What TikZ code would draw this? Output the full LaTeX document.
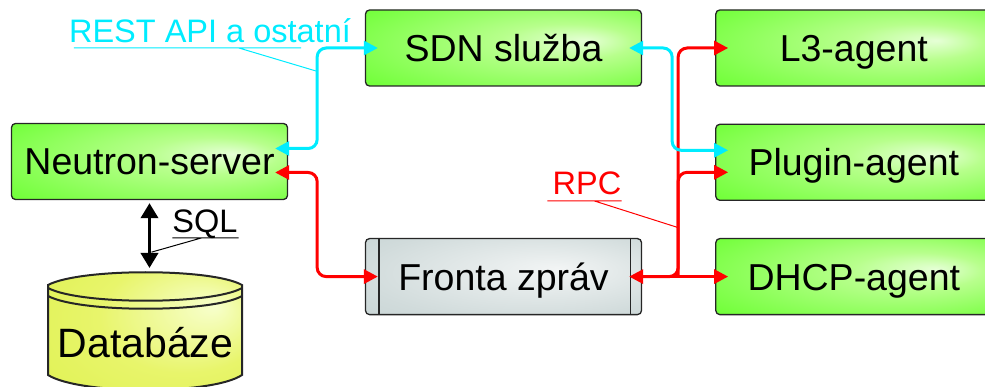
\documentclass[tikz,border=0pt]{standalone}
\usepackage{fontspec}
\setmainfont{Liberation Sans}
\usetikzlibrary{positioning,calc,arrows.meta}
\definecolor{apicyan}{RGB}{0,236,255}
\definecolor{rpcred}{RGB}{255,0,0}
\pgfdeclareradialshading{boxglow}{\pgfpoint{15bp}{5bp}}{rgb(0bp)=(0.90,1,0.84);rgb(12bp)=(0.72,1,0.55);rgb(38bp)=(0.44,1,0.22);rgb(50bp)=(0.38,1,0.18)}
\pgfdeclareradialshading{queueglow}{\pgfpoint{10bp}{5bp}}{rgb(0bp)=(0.95,0.96,0.96);rgb(30bp)=(0.82,0.86,0.86);rgb(50bp)=(0.75,0.81,0.81)}
\pgfdeclareradialshading{dbglow}{\pgfpoint{18bp}{10bp}}{rgb(0bp)=(0.97,1,0.80);rgb(22bp)=(0.91,0.96,0.42);rgb(50bp)=(0.86,0.94,0.28)}

\begin{document}
\begin{tikzpicture}[x=1pt,y=-1pt,>={Triangle[length=14pt,width=14pt]},
box/.style={draw=black!85,line width=1.3pt,rounded corners=4pt,shade,shading=boxglow,minimum width=276pt,minimum height=76pt,inner sep=0pt,text height=27pt,text depth=0pt,font=\fontsize{37.5}{40}\selectfont},
queue/.style={box,shading=queueglow},
lbl/.style={anchor=base,inner sep=0pt,font=\fontsize{32.5}{36}\selectfont},
api/.style={apicyan,line width=3pt,rounded corners=9pt,<->,shorten <=-13pt,shorten >=-13pt},
rpc/.style={api,rpcred},
rpcone/.style={rpcred,line width=3pt,rounded corners=9pt,->,shorten >=-13pt},
sql/.style={line width=3.5pt,{Triangle[length=15pt,width=17pt]}-{Triangle[length=15pt,width=17pt]},shorten <=3pt,shorten >=4pt},
callout/.style={line width=1pt}]
\useasboundingbox (0,0) rectangle (985,387);
\clip (0,0) rectangle (985,387);

\node[box] (server) at (149.5,161.5) {Neutron-server};
\node[box] (sdn) at (503.5,48) {SDN služba};
\node[box] (l3) [right=73pt of sdn] {L3-agent};
\node[box] (plugin) [below=37pt of l3] {Plugin-agent};
\node[box] (dhcp) [below=37pt of plugin] {DHCP-agent};
\node[queue] (fronta) [left=73pt of dhcp] {Fronta zpráv};
\draw[line width=1.3pt,black!85] ([shift={(14,0)}]fronta.north west) -- ([shift={(14,0)}]fronta.south west)
  ([shift={(-12,0)}]fronta.north east) -- ([shift={(-12,0)}]fronta.south east);

\path[draw=black!85,line width=2pt,shade,shading=dbglow] (48,285) .. controls (80,268) and (212,268) .. (242,285)
  -- (242,375) .. controls (212,395) and (80,395) .. (48,375) -- cycle;
\draw[line width=2pt,black!85] (48,288) .. controls (80,305) and (212,305) .. (242,288)
  (48,296) .. controls (80,313) and (212,313) .. (242,296);
\node[anchor=base,inner sep=0pt,font=\fontsize{41}{44}\selectfont] (db) at (145.5,357) {Databáze};
\coordinate (dbtop) at (145,272);

\node[lbl,text=apicyan] (restlbl) at (210,43) {REST API a ostatní};
\node[lbl,text=rpcred] (rpclbl) at (587,195) {RPC};
\node[lbl] (sqllbl) at (205,233) {SQL};

\coordinate (rpcjoin) at ($(fronta.east)+(36,0)$);
\coordinate (restend) at (316,71);
\coordinate (rpcend) at ($(rpcjoin)+(0,-49)$);
\coordinate (sqlend) at ([shift={(2,52)}]server.south);

\draw[sql] (server.south) -- (server.south |- dbtop);

\draw[rpc] ([shift={(0,11)}]server.east) -- ++(29,0) |- (fronta.west);
\draw[rpc] (fronta.east) -- (dhcp.west);
\draw[rpcone] (fronta.east) -| (rpcjoin |- l3.west) -- (l3.west);
\draw[rpcone] (rpcjoin) |- ([shift={(0,10)}]plugin.west);

\draw[api] ([shift={(0,-13)}]server.east) -- ++(29,0) |- (sdn.west);
\draw[api] (sdn.east) -- ++(30,0) |- ([shift={(0,-12)}]plugin.west);

\draw[callout,apicyan] ([shift={(5,5)}]restlbl.base west) -- ([shift={(-50,5)}]restlbl.base east)
  ([shift={(170,5)}]restlbl.base west) -- (restend);
\draw[callout,rpcred] ([shift={(-5,6)}]rpclbl.base west) -- ([shift={(0,6)}]rpclbl.base east)
  ([shift={(42,6)}]rpclbl.base west) -- (rpcend);
\draw[callout] ([shift={(0,5)}]sqllbl.base west) -- ([shift={(1,5)}]sqllbl.base east)
  ([shift={(29,5)}]sqllbl.base west) -- (sqlend);
\end{tikzpicture}
\end{document}
